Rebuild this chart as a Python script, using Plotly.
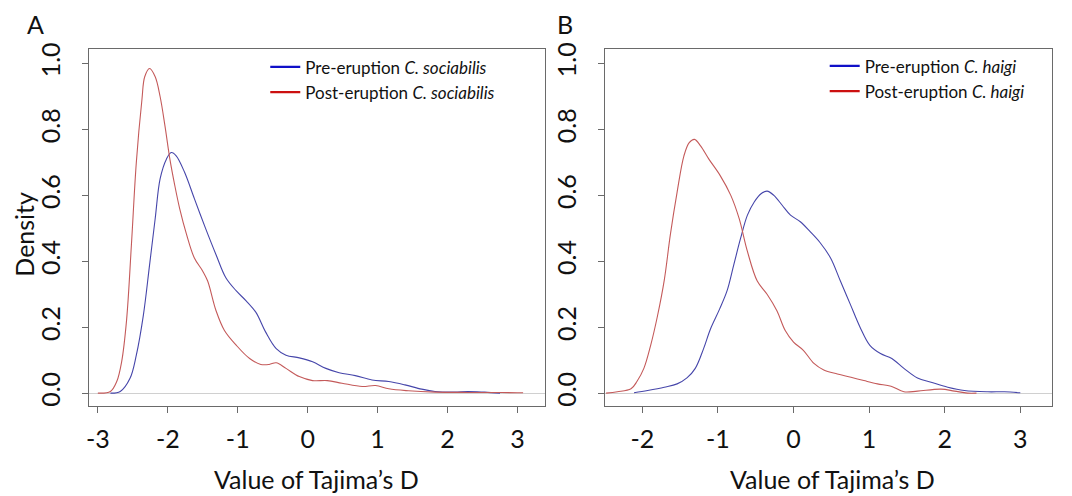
import plotly.graph_objects as go
from plotly.subplots import make_subplots

# ---------------- data ----------------
# Panel A : C. sociabilis
a_post_x = [-3.0, -2.82, -2.73, -2.66, -2.59, -2.52, -2.45, -2.37, -2.33, -2.26, -2.18, -2.11,
            -2.04, -1.97, -1.90, -1.83, -1.73, -1.62, -1.50, -1.43, -1.31, -1.19, -1.02, -0.83,
            -0.67, -0.55, -0.45, -0.31, -0.12, 0.07, 0.28, 0.49, 0.78, 0.97, 1.16, 1.44, 1.82,
            2.29, 2.70, 3.0, 3.08]
a_post_y = [0.0, 0.005, 0.035, 0.095, 0.22, 0.45, 0.70, 0.89, 0.96, 0.985, 0.96, 0.90,
            0.81, 0.71, 0.63, 0.56, 0.48, 0.41, 0.37, 0.34, 0.25, 0.19, 0.145, 0.105,
            0.087, 0.087, 0.092, 0.075, 0.05, 0.038, 0.038, 0.03, 0.02, 0.023, 0.013, 0.007, 0.003,
            0.002, 0.002, 0.001, 0.001]

a_pre_x = [-2.82, -2.68, -2.54, -2.45, -2.35, -2.26, -2.18, -2.11, -2.02, -1.95, -1.88, -1.76,
           -1.62, -1.46, -1.31, -1.17, -1.02, -0.88, -0.74, -0.60, -0.45, -0.31, -0.12, 0.07,
           0.26, 0.45, 0.68, 0.92, 1.16, 1.39, 1.63, 1.82, 2.10, 2.29, 2.53, 2.75]
a_pre_y = [0.0, 0.005, 0.045, 0.115, 0.235, 0.39, 0.53, 0.65, 0.71, 0.73, 0.72, 0.67,
           0.59, 0.50, 0.42, 0.35, 0.31, 0.28, 0.245, 0.185, 0.135, 0.115, 0.107, 0.095,
           0.075, 0.062, 0.053, 0.04, 0.035, 0.025, 0.012, 0.005, 0.003, 0.005, 0.003, 0.0]

# Panel B : C. haigi
b_post_x = [-2.48, -2.33, -2.15, -2.07, -1.98, -1.89, -1.80, -1.71, -1.63, -1.54, -1.45, -1.38,
            -1.31, -1.23, -1.12, -0.97, -0.83, -0.72, -0.61, -0.48, -0.35, -0.22, -0.11, 0.0,
            0.13, 0.27, 0.40, 0.58, 0.76, 0.93, 1.11, 1.29, 1.46, 1.64, 1.95, 2.13, 2.30, 2.42]
b_post_y = [0.0, 0.004, 0.013, 0.036, 0.075, 0.145, 0.234, 0.343, 0.48, 0.61, 0.72, 0.76,
            0.77, 0.75, 0.71, 0.66, 0.60, 0.53, 0.43, 0.34, 0.30, 0.25, 0.19, 0.155,
            0.13, 0.09, 0.07, 0.058, 0.048, 0.038, 0.028, 0.021, 0.004, 0.006, 0.012, 0.006, 0.0, 0.0]

b_pre_x = [-2.11, -1.93, -1.71, -1.54, -1.41, -1.30, -1.19, -1.10, -0.98, -0.88, -0.79, -0.70,
           -0.61, -0.52, -0.43, -0.35, -0.26, -0.15, -0.04, 0.09, 0.22, 0.35, 0.49, 0.62,
           0.75, 0.88, 1.01, 1.15, 1.30, 1.46, 1.64, 1.82, 2.04, 2.26, 2.57, 2.79, 3.0]
b_pre_y = [0.001, 0.008, 0.018, 0.028, 0.046, 0.075, 0.135, 0.194, 0.254, 0.31, 0.39, 0.47,
           0.54, 0.58, 0.605, 0.613, 0.60, 0.57, 0.54, 0.52, 0.49, 0.457, 0.41, 0.34,
           0.27, 0.20, 0.145, 0.12, 0.105, 0.075, 0.046, 0.033, 0.018, 0.008, 0.004, 0.004, 0.001]

x_ticks_a = [-3, -2, -1, 0, 1, 2, 3]
x_ticks_b = [-2, -1, 0, 1, 2, 3]
y_ticks = [0.0, 0.2, 0.4, 0.6, 0.8, 1.0]
y_tick_text = ["0.0", "0.2", "0.4", "0.6", "0.8", "1.0"]

species_a = "C. sociabilis"
species_b = "C. haigi"
x_title = "Value of Tajima\u2019s D"
y_title = "Density"

# ---------------- styles ----------------
FONT = "Lato"
CURVE_BLUE = "#4646aa"
CURVE_RED = "#c45a5a"
LEG_BLUE = "#1010c8"
LEG_RED = "#cc1010"
AXIS_COL = "#6a6a6a"

fig = make_subplots(rows=1, cols=2)

def add_panel(col, pre_x, pre_y, post_x, post_y, species, legend_name):
    fig.add_trace(go.Scatter(x=pre_x, y=pre_y, mode="lines", line=dict(color=CURVE_BLUE, width=1.1),
                             line_shape="spline", showlegend=False, hoverinfo="skip"), row=1, col=col)
    fig.add_trace(go.Scatter(x=post_x, y=post_y, mode="lines", line=dict(color=CURVE_RED, width=1.1),
                             line_shape="spline", showlegend=False, hoverinfo="skip"), row=1, col=col)
    # legend entries
    fig.add_trace(go.Scatter(x=[None], y=[None], mode="lines", line=dict(color=LEG_BLUE, width=2.2),
                             name=f"Pre-eruption <i>{species}</i>", legend=legend_name), row=1, col=col)
    fig.add_trace(go.Scatter(x=[None], y=[None], mode="lines", line=dict(color=LEG_RED, width=2.2),
                             name=f"Post-eruption <i>{species}</i>", legend=legend_name), row=1, col=col)

add_panel(1, a_pre_x, a_pre_y, a_post_x, a_post_y, species_a, "legend")
add_panel(2, b_pre_x, b_pre_y, b_post_x, b_post_y, species_b, "legend2")

W, H = 1072, 496
dom_y = [1 - 405 / H, 1 - 43 / H]
dom_xa = [86 / W, 544 / W]
dom_xb = [604 / W, 1052 / W]

TICK_FONT = dict(family=FONT, size=25, color="#111")
common_x = dict(showline=True, mirror=True, linecolor=AXIS_COL, linewidth=1.3,
                ticks="outside", ticklen=6, tickcolor=AXIS_COL, tickwidth=1.2,
                showgrid=False, zeroline=False, tickfont=TICK_FONT,
                ticklabelstandoff=5)
common_y = dict(showline=True, mirror=True, linecolor=AXIS_COL, linewidth=1.3,
                ticks="outside", ticklen=6, tickcolor=AXIS_COL, tickwidth=1.2,
                showgrid=False, zeroline=True, zerolinecolor="#d0d0d0", zerolinewidth=1,
                tickvals=y_ticks, ticktext=y_tick_text, tickangle=-90, range=[-0.04, 1.043],
                tickfont=TICK_FONT, ticklabelstandoff=12)

fig.update_layout(
    width=W, height=H, margin=dict(l=0, r=0, t=0, b=0),
    paper_bgcolor="white", plot_bgcolor="white",
    font=dict(family=FONT, color="#111"),
    xaxis=dict(domain=dom_xa, range=[-3.13, 3.40], tickvals=x_ticks_a,
               ticktext=[str(v) for v in x_ticks_a], **common_x),
    xaxis2=dict(domain=dom_xb, range=[-2.49, 3.42], tickvals=x_ticks_b,
                ticktext=[str(v) for v in x_ticks_b], **common_x),
    yaxis=dict(domain=dom_y, **common_y),
    yaxis2=dict(domain=dom_y, **common_y),
    legend=dict(x=263 / W, y=1 - 43 / H, xanchor="left", yanchor="top", bgcolor="rgba(0,0,0,0)",
                font=dict(family=FONT, size=17, color="#111"), itemwidth=30, tracegroupgap=0),
    legend2=dict(x=824 / W, y=1 - 42 / H, xanchor="left", yanchor="top", bgcolor="rgba(0,0,0,0)",
                 font=dict(family=FONT, size=17, color="#111"), itemwidth=30, tracegroupgap=0),
)

ann_font = dict(family=FONT, size=25, color="#111")
fig.add_annotation(text=x_title, xref="paper", yref="paper", x=314 / W,
                   y=1 - 479 / H, showarrow=False, font=ann_font, xanchor="center", yanchor="middle")
fig.add_annotation(text=x_title, xref="paper", yref="paper", x=832 / W,
                   y=1 - 479 / H, showarrow=False, font=ann_font, xanchor="center", yanchor="middle")
fig.add_annotation(text=y_title, xref="paper", yref="paper", x=21 / W, y=1 - 230 / H,
                   showarrow=False, font=ann_font, textangle=-90, xanchor="center", yanchor="middle")
fig.add_annotation(text="A", xref="paper", yref="paper", x=33 / W, y=1 - 17 / H,
                   showarrow=False, font=dict(family=FONT, size=25, color="#111"),
                   xanchor="center", yanchor="middle")
fig.add_annotation(text="B", xref="paper", yref="paper", x=564 / W, y=1 - 17 / H,
                   showarrow=False, font=dict(family=FONT, size=25, color="#111"),
                   xanchor="center", yanchor="middle")

fig.write_html("out.html")
